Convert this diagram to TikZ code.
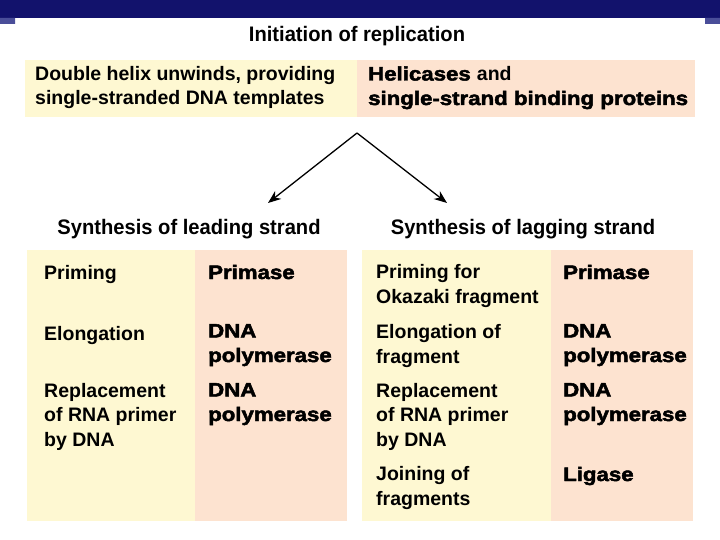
\documentclass[tikz,border=0pt]{standalone}
\usepackage{fontspec}
\setmainfont{Liberation Sans}
\newfontfamily\hdrfont[FakeStretch=0.96]{Liberation Sans Bold}
\newfontfamily\stepfont{Liberation Sans Bold}
\newfontfamily\enzfont[FakeBold=2.5,FakeStretch=1.14]{Liberation Sans Bold}
\usetikzlibrary{arrows.meta}
\definecolor{barC}{HTML}{12126C}
\definecolor{tabC}{HTML}{4A4E99}
\definecolor{cellY}{HTML}{FEF8D2}
\definecolor{cellS}{HTML}{FDE3D0}
\tikzset{
  yel/.style={fill=cellY,inner sep=0pt,anchor=north west},
  sal/.style={fill=cellS,inner sep=0pt,anchor=north west},
  % multi-line texts sit on the baseline of their last line
  stp/.style={font=\fontsize{19.5}{24.5}\stepfont,anchor=base west,align=left,inner sep=0pt},
  enz/.style={font=\fontsize{19.5}{24.5}\enzfont,anchor=base west,align=left,inner sep=0pt},
  hd/.style={font=\fontsize{21}{26}\hdrfont,anchor=base,inner sep=0pt},
  split/.style={-{Stealth[length=13pt,width=10pt]},line width=1.3pt,draw=black},
}

\begin{document}
\begin{tikzpicture}[x=1pt,y=-1pt]
\useasboundingbox (0,0) rectangle (720,540);
% ---- slide bar
\fill[barC] (0,0) rectangle (720,18);
\fill[tabC] (0,18) rectangle (15,24) (705,18) rectangle (720,24);
\node[hd] (title) at (357,42) {Initiation of replication};
% ---- initiation
\node[yel,minimum width=332pt,minimum height=57pt] (initL) at (25,60) {};
\node[sal,minimum width=338pt,minimum height=57pt] (initR) at (357,60) {};
\node[stp] (unwind) at (35,105) {Double helix unwinds, providing\\single-stranded DNA templates};
\node[enz] (helic) at (368,105) {Helicases {\stepfont and}\\single-strand binding proteins};
% ---- fork
\coordinate (fork) at (357,133);
\coordinate (tipL) at (268,203);
\coordinate (tipR) at (447,203);
\draw[split] (fork) -- (tipL);
\draw[split] (fork) -- (tipR);
\node[hd] (lead) at (189,234) {Synthesis of leading strand};
\node[hd] (lag) at (523,234) {Synthesis of lagging strand};
% ---- leading strand
\node[yel,minimum width=168pt,minimum height=271pt] (leadL) at (27,250) {};
\node[sal,minimum width=152pt,minimum height=271pt] (leadR) at (195,250) {};
\node[stp] (a1) at (44,279) {Priming};
\node[stp] (a2) at (44,340) {Elongation};
\node[stp] (a3) at (44,446) {Replacement\\of RNA primer\\by DNA};
\node[enz] (e1) at (208,279) {Primase};
\node[enz] (e2) at (208,362) {DNA\\polymerase};
\node[enz] (e3) at (208,421) {DNA\\polymerase};
% ---- lagging strand
\node[yel,minimum width=189pt,minimum height=271pt] (lagL) at (362,250) {};
\node[sal,minimum width=142pt,minimum height=271pt] (lagR) at (551,250) {};
\node[stp] (b1) at (376,303) {Priming for\\Okazaki fragment};
\node[stp] (b2) at (376,363) {Elongation of\\fragment};
\node[stp] (b3) at (376,446) {Replacement\\of RNA primer\\by DNA};
\node[stp] (b4) at (376,505) {Joining of\\fragments};
\node[enz] (f1) at (563,279) {Primase};
\node[enz] (f2) at (563,362) {DNA\\polymerase};
\node[enz] (f3) at (563,421) {DNA\\polymerase};
\node[enz] (f4) at (563,481) {Ligase};
\end{tikzpicture}
\end{document}
